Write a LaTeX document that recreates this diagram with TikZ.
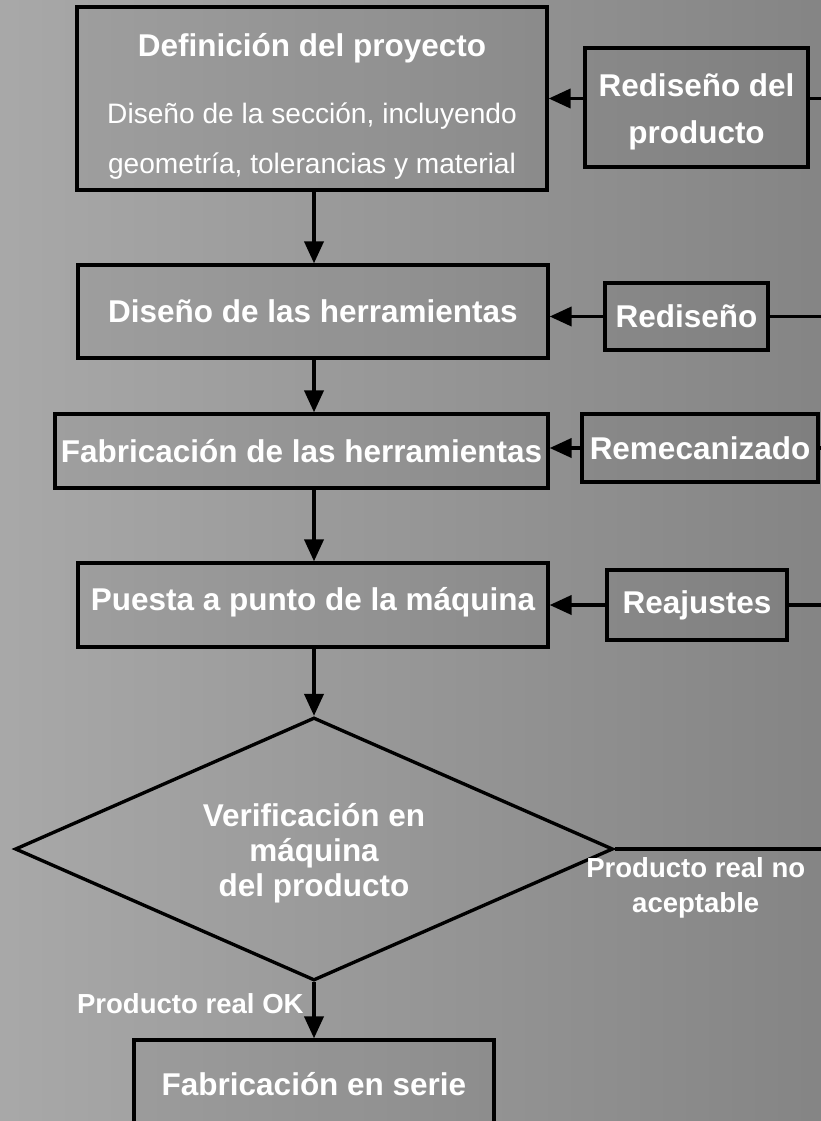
\documentclass[tikz,border=0pt]{standalone}
\usepackage{fontspec}
\setmainfont{Liberation Sans}
\usetikzlibrary{shapes.geometric,arrows.meta}
\tikzstyle{stage} = [rectangle, sharp corners, draw, line width=2.4pt,
                     fill=black, fill opacity=0.04, text opacity=1, text=white,
                     inner sep=0pt, align=center,
                     font=\bfseries\fontsize{22.4}{33.4}\selectfont]
\tikzstyle{rework} = [stage]
\tikzstyle{check} = [diamond, draw, line width=2.4pt, aspect=2.27,
                     inner sep=0pt, text=white, align=center,
                     font=\bfseries\fontsize{22.4}{24.9}\selectfont]
\tikzstyle{flow} = [line width=2.4pt, -{Triangle[length=0.55cm,width=0.48cm]}]
\tikzstyle{feed} = [line width=2.4pt]
\tikzstyle{tag} = [text=white, align=center,
                   font=\bfseries\fontsize{19.6}{24.9}\selectfont]

\begin{document}
\begin{tikzpicture}
\clip (0,0) rectangle (20.525,-28.025);
\fill[left color=black!34, right color=black!48] (0,0) rectangle (20.525,-28.025);
\coordinate (spine) at (7.85,0);
\coordinate (edge) at (20.7,0);

% Main chain
\node[stage, minimum width=11.75cm, minimum height=4.575cm,
      font=\bfseries\fontsize{22.4}{35.6}\selectfont] at (7.8,-2.4625) (proyecto)
  {\rule{0pt}{28pt}Definición del proyecto\\[12pt]
   {\mdseries\fontsize{20}{24}\selectfont Diseño de la sección, incluyendo}\\
   {\mdseries\fontsize{20}{24}\selectfont geometría, tolerancias y material}};
\node[stage, minimum width=11.75cm, minimum height=2.325cm] at (7.825,-7.7875) (herram)
  {Diseño de las herramientas};
\node[stage, minimum width=12.325cm, minimum height=1.85cm] at (7.5375,-11.275) (fabric)
  {Fabricación de las herramientas};
\node[stage, minimum width=11.75cm, minimum height=2.1cm] at (7.825,-15.125) (puesta)
  {Puesta a punto de la máquina\rule[-9pt]{0pt}{9pt}};
\node[check, minimum width=14.95cm, minimum height=6.575cm] at (7.85,-21.225) (verif)
  {\rule{0pt}{23pt}Verificación en\\máquina\\del producto};
\node[stage, minimum width=9cm, minimum height=2.2cm] at (7.85,-27.1) (serie)
  {Fabricación en serie};

\draw[flow] (spine |- proyecto.south) -- (spine |- herram.north);
\draw[flow] (spine |- herram.south) -- (spine |- fabric.north);
\draw[flow] (spine |- fabric.south) -- (spine |- puesta.north);
\draw[flow] (spine |- puesta.south) -- (verif.north);
\draw[flow] (verif.south) -- node[tag, pos=0.38, left=0.1cm] {Producto real OK} (serie.north);

% Rework loop
\node[rework, minimum width=5.575cm, minimum height=2.975cm] at (17.4125,-2.6875) (prod)
  {\rule{0pt}{23pt}Rediseño del\\producto};
\node[rework, minimum width=4.075cm, minimum height=1.675cm] at (17.1625,-7.9125) (redis)
  {Rediseño};
\node[rework, minimum width=5.9cm, minimum height=1.7cm] at (17.5,-11.2) (remec)
  {Remecanizado};
\node[rework, minimum width=4.5cm, minimum height=1.75cm] at (17.425,-15.125) (reaj)
  {Reajustes};

\draw[flow] (proyecto.east -| prod.west) -- (proyecto.east);
\draw[feed] (proyecto.east -| prod.east) -- (proyecto.east -| edge);
\draw[flow] (redis.west) -- (redis.west -| herram.east);
\draw[feed] (redis.east) -- (redis.east -| edge);
\draw[flow] (remec.west) -- (remec.west -| fabric.east);
\draw[feed] (remec.east) -- (remec.east -| edge);
\draw[flow] (reaj.west) -- (reaj.west -| puesta.east);
\draw[feed] (reaj.east) -- (reaj.east -| edge);
\draw[feed] (verif.east) -- node[tag, pos=0.38, below=0.05cm] {Producto real no\\aceptable} (verif.east -| edge);
\end{tikzpicture}
\end{document}
